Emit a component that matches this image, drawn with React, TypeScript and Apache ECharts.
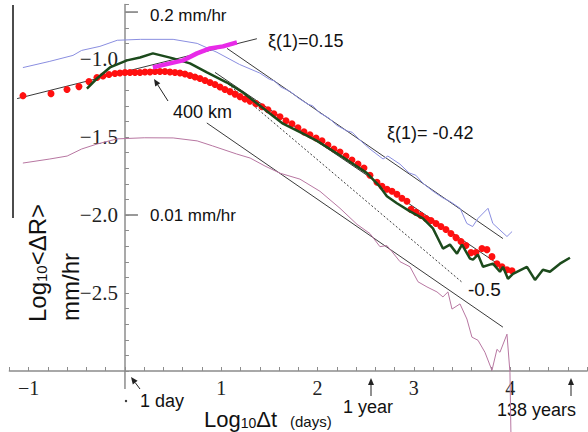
import React, { useEffect, useRef } from 'react';
import * as echarts from 'echarts';

type Pt = [number, number];

// x: log10 Δt (days), y: log10 <ΔR> (mm/hr)

// straight-line fits
const fitPlus015: Pt[] = [[-1.12, -1.254], [1.37, -0.87]];
const fitUpper042: Pt[] = [[1.06, -0.932], [3.925, -2.151]];
const fitMiddle042: Pt[] = [[0.935, -1.086], [3.946, -2.344]];
const fitSlopeHalf: Pt[] = [[1.07, -1.16], [3.51, -2.436]];
const fitLower042: Pt[] = [[0.85, -1.41], [3.925, -2.719]];

// 0.2 mm/hr curve
const blueCurve: Pt[] = [
  [-1.06, -1.055], [-0.78, -1.015], [-0.54, -0.977], [-0.45, -0.945], [-0.26, -0.919],
  [-0.08, -0.88], [0.16, -0.874], [0.5, -0.874], [0.75, -0.9], [0.955, -0.957],
  [1.19, -1.035], [1.4, -1.09], [1.5, -1.13], [1.55, -1.14], [1.62, -1.18],
  [1.72, -1.21], [1.8, -1.25], [1.9, -1.29], [1.95, -1.3], [2.02, -1.345],
  [2.12, -1.38], [2.2, -1.425], [2.3, -1.46], [2.36, -1.47], [2.44, -1.52],
  [2.544, -1.577], [2.68, -1.641], [2.73, -1.622], [2.856, -1.674], [2.95, -1.73],
  [3.02, -1.745], [3.1, -1.8], [3.2, -1.848], [3.3, -1.89], [3.38, -1.915],
  [3.48, -1.957], [3.55, -2.054], [3.61, -2.074], [3.666, -2.022], [3.77, -1.957],
  [3.82, -2.054], [3.967, -2.138], [4.02, -2.106],
];

// 0.01 mm/hr curve
const pinkCurve: Pt[] = [
  [-1.06, -1.667], [-0.78, -1.641], [-0.6, -1.622], [-0.45, -1.577], [-0.29, -1.545],
  [-0.08, -1.512], [0.2, -1.505], [0.5, -1.506], [0.75, -1.525], [0.91, -1.557],
  [1.16, -1.609], [1.3, -1.635], [1.454, -1.686], [1.61, -1.732], [1.817, -1.77],
  [2.025, -1.848], [2.233, -1.957], [2.41, -2.06], [2.544, -2.119], [2.648, -2.203],
  [2.72, -2.196], [2.773, -2.235], [2.856, -2.299], [2.96, -2.332], [3.043, -2.428],
  [3.136, -2.461], [3.24, -2.493], [3.302, -2.525], [3.354, -2.493], [3.396, -2.603],
  [3.479, -2.57], [3.551, -2.667], [3.603, -2.783], [3.666, -2.803], [3.738, -2.88],
  [3.811, -2.996], [3.863, -2.861], [3.894, -2.88], [3.967, -2.764], [3.998, -3.009],
  [4.008, -3.4],
];

// dark green record
const greenCurve: Pt[] = [
  [-0.395, -1.19], [-0.291, -1.125], [-0.156, -1.054], [0.021, -1.009], [0.156, -0.99],
  [0.29, -0.964], [0.5, -0.996], [0.675, -1.028], [0.851, -1.086], [1.059, -1.151],
  [1.225, -1.215], [1.402, -1.299], [1.641, -1.415], [1.823, -1.47], [1.994, -1.525],
  [2.26, -1.628], [2.51, -1.73], [2.65, -1.82], [2.72, -1.88], [2.824, -1.925],
  [2.96, -1.977], [3.094, -2.022], [3.198, -2.086], [3.24, -2.138], [3.302, -2.215],
  [3.375, -2.19], [3.448, -2.248], [3.5, -2.19], [3.583, -2.28], [3.614, -2.286],
  [3.666, -2.254], [3.718, -2.332], [3.821, -2.312], [3.894, -2.364], [3.925, -2.332],
  [3.977, -2.409], [4.029, -2.377], [4.174, -2.332], [4.258, -2.416], [4.34, -2.351],
  [4.413, -2.364], [4.517, -2.312], [4.621, -2.274],
];

// magenta segment
const magentaCurve: Pt[] = [
  [0.29, -1.054], [0.467, -1.028], [0.602, -1.009], [0.748, -0.964], [0.883, -0.932],
  [1.018, -0.919], [1.163, -0.893],
];

// 400 km averages
const redDots: Pt[] = [
  [-1.059, -1.235], [-0.768, -1.222], [-0.602, -1.196], [-0.478, -1.177], [-0.374, -1.145],
  [-0.291, -1.119], [-0.228, -1.109], [-0.166, -1.099], [-0.104, -1.093], [-0.052, -1.09],
  [0.0, -1.086], [0.052, -1.086], [0.104, -1.086], [0.156, -1.086], [0.208, -1.083],
  [0.26, -1.083], [0.312, -1.08], [0.363, -1.08], [0.415, -1.08], [0.467, -1.083],
  [0.519, -1.086], [0.571, -1.09], [0.623, -1.096], [0.675, -1.106], [0.727, -1.115],
  [0.779, -1.125], [0.831, -1.138], [0.883, -1.151], [0.935, -1.164], [0.987, -1.18],
  [1.038, -1.196], [1.09, -1.209], [1.142, -1.225], [1.194, -1.241], [1.246, -1.257],
  [1.298, -1.27], [1.36, -1.286], [1.423, -1.306], [1.485, -1.325], [1.547, -1.351],
  [1.61, -1.37], [1.672, -1.396], [1.734, -1.415], [1.796, -1.441], [1.859, -1.467],
  [1.921, -1.486], [1.984, -1.506], [2.046, -1.525], [2.108, -1.551], [2.17, -1.577],
  [2.233, -1.596], [2.295, -1.622], [2.357, -1.648], [2.42, -1.674], [2.482, -1.699],
  [2.544, -1.745], [2.617, -1.79], [2.669, -1.816], [2.721, -1.835], [2.773, -1.848],
  [2.824, -1.867], [2.876, -1.893], [2.928, -1.912], [2.97, -1.964], [3.022, -1.983],
  [3.074, -2.003], [3.126, -2.022], [3.178, -2.035], [3.23, -2.054], [3.281, -2.074],
  [3.333, -2.093], [3.385, -2.119], [3.437, -2.145], [3.489, -2.17], [3.541, -2.196],
  [3.593, -2.241], [3.645, -2.24], [3.707, -2.215], [3.759, -2.222], [3.811, -2.267],
  [3.863, -2.312], [3.915, -2.332], [3.967, -2.351], [4.019, -2.357],
];

const yLabelValues = [-2.5, -2, -1.5, -1];

const X_MIN = -1.2;
const X_MAX = 4.8;
const GRID_LEFT = 9.4;
const GRID_WIDTH = 577.8;
// the y axis sits at x = 0, inside the plot
const Y_AXIS_SHIFT = (GRID_WIDTH * (0 - X_MIN)) / (X_MAX - X_MIN);

const SANS = '"Liberation Sans", Arial, Helvetica, sans-serif';
const SERIF = '"Liberation Serif", "Times New Roman", Times, serif';
const AXIS_GREY = '#8c8c8c';
const INK = '#111';

function arrow(x1: number, y1: number, x2: number, y2: number) {
  const dx = x2 - x1;
  const dy = y2 - y1;
  const len = Math.hypot(dx, dy);
  const ux = dx / len;
  const uy = dy / len;
  const hl = 7;
  const hw = 3;
  const bx = x2 - ux * hl;
  const by = y2 - uy * hl;
  return [
    { type: 'line', shape: { x1, y1, x2: bx, y2: by }, style: { stroke: '#222', lineWidth: 1 } },
    {
      type: 'polygon',
      shape: { points: [[x2, y2], [bx - uy * hw, by + ux * hw], [bx + uy * hw, by - ux * hw]] },
      style: { fill: '#222' },
    },
  ];
}

function note(text: string, x: number, y: number, size = 18) {
  return {
    type: 'text',
    x,
    y,
    style: { text, fontSize: size, fontFamily: SANS, fill: INK, align: 'left', verticalAlign: 'middle' },
  };
}

function fitLine(data: Pt[], dashed = false) {
  return {
    type: 'line',
    data,
    showSymbol: false,
    silent: true,
    z: 2,
    lineStyle: { color: '#3a3a3a', width: 1, type: dashed ? [2, 2] : 'solid' },
  };
}

function curve(data: Pt[], color: string, width: number, z: number, clip = true) {
  return {
    type: 'line',
    data,
    showSymbol: false,
    silent: true,
    clip,
    z,
    lineStyle: { color, width },
  };
}

export default function App() {
  const ref = useRef<HTMLDivElement>(null);

  useEffect(() => {
    if (!ref.current) return;
    const chart = echarts.init(ref.current, null, { renderer: 'svg' });

    chart.setOption({
      animation: false,
      backgroundColor: '#ffffff',
      grid: {
        left: GRID_LEFT,
        top: 4.4,
        width: GRID_WIDTH,
        height: 366.6,
        containLabel: false,
        outerBoundsMode: 'none',
      },
      xAxis: {
        type: 'value',
        min: X_MIN,
        max: X_MAX,
        interval: 0.2,
        splitLine: { show: false },
        axisLine: { onZero: false, lineStyle: { color: AXIS_GREY, width: 1.5 } },
        axisTick: { show: true, inside: true, length: 4, lineStyle: { color: AXIS_GREY } },
        axisLabel: {
          margin: 7,
          fontFamily: SERIF,
          fontSize: 20,
          color: '#222',
          formatter: (v: number) => {
            const r = Math.round(v);
            if (Math.abs(v - r) > 1e-6 || r === 0) return '';
            return r < 0 ? '\u2212' + -r : String(r);
          },
        },
      },
      yAxis: {
        type: 'value',
        min: -3,
        max: -0.65,
        interval: 0.1,
        position: 'left',
        offset: -Y_AXIS_SHIFT,
        splitLine: { show: false },
        axisLine: { show: true, onZero: false, lineStyle: { color: AXIS_GREY, width: 1.5 } },
        axisTick: { show: true, inside: true, length: 4, lineStyle: { color: AXIS_GREY } },
        axisLabel: {
          margin: 7,
          fontFamily: SERIF,
          fontSize: 21,
          color: '#222',
          formatter: (v: number) => {
            const r = Math.round(v * 10) / 10;
            if (Math.abs(v - r) > 1e-6 || !yLabelValues.includes(r)) return '';
            return '\u2212' + Math.abs(r).toFixed(1);
          },
        },
      },
      series: [
        fitLine(fitPlus015),
        fitLine(fitUpper042),
        fitLine(fitMiddle042),
        fitLine(fitSlopeHalf, true),
        fitLine(fitLower042),
        curve(blueCurve, '#8a8ee0', 1, 3),
        curve(pinkCurve, '#b877a2', 1, 3, false),
        {
          type: 'scatter',
          data: redDots,
          symbolSize: 7,
          silent: true,
          z: 4,
          itemStyle: { color: '#ff1010', opacity: 1 },
        },
        curve(greenCurve, '#1c4a1c', 2.5, 5),
        curve(magentaCurve, '#e82ae8', 4.5, 6),
      ],
    });

    const px = (x: number, y: number) => chart.convertToPixel({ gridIndex: 0 }, [x, y]) as number[];
    const tick02 = px(0, Math.log10(0.2));
    const tick001 = px(0, Math.log10(0.01));
    const axisFoot = px(0, -3);

    chart.setOption({
      graphic: [
        // left border fragment
        { type: 'line', shape: { x1: 13, y1: 5, x2: 13, y2: 218 }, style: { stroke: '#111', lineWidth: 1.5 } },
        // y axis continues below the x axis
        {
          type: 'line',
          shape: { x1: axisFoot[0], y1: axisFoot[1], x2: axisFoot[0], y2: 389 },
          style: { stroke: AXIS_GREY, lineWidth: 1.5 },
        },
        // reference rate ticks
        {
          type: 'line',
          shape: { x1: tick02[0], y1: tick02[1], x2: tick02[0] + 13, y2: tick02[1] },
          style: { stroke: '#555', lineWidth: 1.2 },
        },
        {
          type: 'line',
          shape: { x1: tick001[0], y1: tick001[1], x2: tick001[0] + 13, y2: tick001[1] },
          style: { stroke: '#555', lineWidth: 1.2 },
        },
        note('0.2 mm/hr', 150, 15, 17),
        note('0.01 mm/hr', 150, 215, 17),
        note('\u03be(1)=0.15', 268, 41),
        note('\u03be(1)= -0.42', 387, 133),
        note('400 km', 173, 112),
        note('-0.5', 468, 289, 19),
        note('1 day', 140, 401),
        note('1 year', 343, 407),
        note('138 years', 497, 410),
        ...arrow(168, 101, 154, 79),
        ...arrow(140, 389, 131, 377),
        ...arrow(371, 396, 371, 378),
        ...arrow(571, 396, 571, 378),
        { type: 'circle', shape: { cx: 126, cy: 401, r: 1.2 }, style: { fill: '#333' } },
        // x axis title
        {
          type: 'text',
          x: 204,
          y: 419,
          style: {
            text: '{a|Log}{b|10}{a|\u0394t}',
            align: 'left',
            verticalAlign: 'middle',
            rich: {
              a: { fontSize: 22, fontFamily: SANS, fill: INK, color: INK },
              b: { fontSize: 14, fontFamily: SANS, fill: INK, color: INK, verticalAlign: 'bottom' },
            },
          },
        },
        note('(days)', 290, 421, 15),
        // y axis title, two rotated lines
        {
          type: 'group',
          x: 37,
          y: 322,
          rotation: Math.PI / 2,
          children: [
            {
              type: 'text',
              x: 0,
              y: 0,
              style: {
                text: '{a|Log}{b|10}{a|<\u0394R>}',
                align: 'left',
                verticalAlign: 'middle',
                rich: {
                  a: { fontSize: 24, fontFamily: SANS, fill: INK, color: INK },
                  b: { fontSize: 15, fontFamily: SANS, fill: INK, color: INK, verticalAlign: 'bottom' },
                },
              },
            },
          ],
        },
        {
          type: 'group',
          x: 70,
          y: 321,
          rotation: Math.PI / 2,
          children: [
            {
              type: 'text',
              x: 0,
              y: 0,
              style: { text: 'mm/hr', fontSize: 24, fontFamily: SANS, fill: INK, align: 'left', verticalAlign: 'middle' },
            },
          ],
        },
      ],
    });

    return () => chart.dispose();
  }, []);

  return (
    <div
      ref={ref}
      style={{ position: 'fixed', left: 0, top: 0, width: 588, height: 432, background: '#fff' }}
    />
  );
}
